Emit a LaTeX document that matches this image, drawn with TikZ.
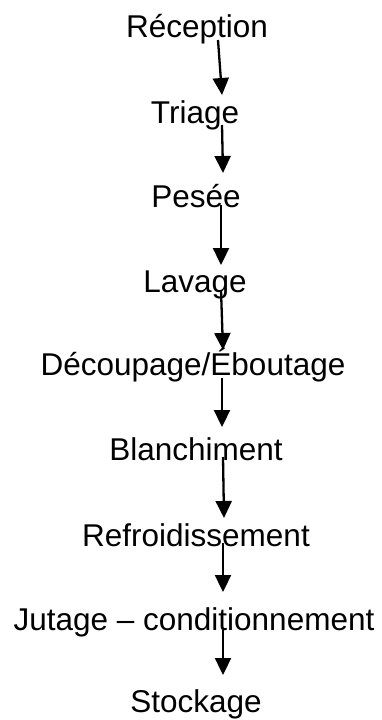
\documentclass[tikz,border=0pt]{standalone}
\usepackage{fontspec}
\setmainfont{Liberation Sans}
\usetikzlibrary{arrows.meta}
\begin{document}
\begin{tikzpicture}[x=1pt,y=-1pt,
  stage/.style={anchor=base,inner sep=0pt,font=\fontsize{31.5}{38}\selectfont},
  flow/.style={line width=2.3pt,-{Triangle[width=16pt,length=17pt]}}]
\useasboundingbox (0,0) rectangle (382,720);
% process stages, placed on their baselines
\node[stage] (recep) at (197,37) {Réception};
\node[stage] (tri)   at (195,123) {Triage};
\node[stage] (pes)   at (196,207) {Pesée};
\node[stage] (lav)   at (195,292) {Lavage};
\node[stage] (dec)   at (193,375) {Découpage/Éboutage};
\node[stage] (bla)   at (196,460) {Blanchiment};
\node[stage] (ref)   at (196,546) {Refroidissement};
\node[stage] (jut)   at (194,630) {Jutage – conditionnement};
\node[stage] (sto)   at (196,712) {Stockage};
% arrow end points
\coordinate (s1) at (218,40);  \coordinate (e1) at (222,95);
\coordinate (s2) at (222,125); \coordinate (e2) at (223,173);
\coordinate (s3) at (221,205); \coordinate (e3) at (221,265);
\coordinate (s4) at (221,290); \coordinate (e4) at (223,350);
\coordinate (s5) at (222,378); \coordinate (e5) at (222,427);
\coordinate (s6) at (223,457); \coordinate (e6) at (224,518);
\coordinate (s7) at (223,543); \coordinate (e7) at (223,592);
\coordinate (s8) at (223,630); \coordinate (e8) at (223,675);
\foreach \i in {1,...,8} \draw[flow] (s\i) -- (e\i);
\end{tikzpicture}
\end{document}
